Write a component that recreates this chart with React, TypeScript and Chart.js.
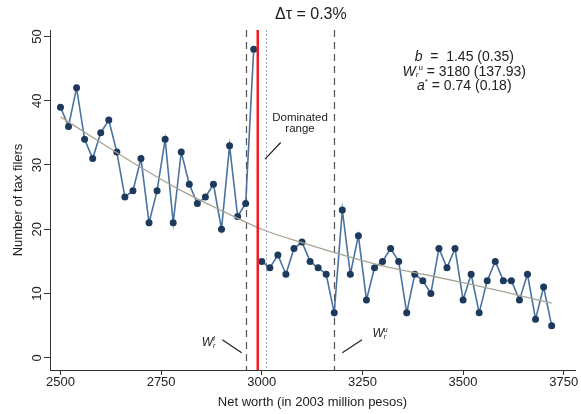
import React, { useEffect, useRef } from "react";
import { Chart, registerables } from "chart.js";

Chart.register(...registerables);

// Net worth bins (2003 million pesos) and number of tax filers, left of the notch
const leftNetWorth = [2500, 2520, 2540, 2560, 2580, 2600, 2620, 2640, 2660, 2680, 2700, 2720, 2740, 2760, 2780, 2800, 2820, 2840, 2860, 2880, 2900, 2920, 2940, 2960, 2980];
const leftFilers = [39, 36, 42, 34, 31, 35, 37, 32, 25, 26, 31, 21, 26, 34, 21, 32, 27, 24, 25, 27, 20, 33, 22, 24, 48];

// right of the notch
const rightNetWorth = [3000, 3020, 3040, 3060, 3080, 3100, 3120, 3140, 3160, 3180, 3200, 3220, 3240, 3260, 3280, 3300, 3320, 3340, 3360, 3380, 3400, 3420, 3440, 3460, 3480, 3500, 3520, 3540, 3560, 3580, 3600, 3620, 3640, 3660, 3680, 3700, 3720];
const rightFilers = [15, 14, 16, 13, 17, 18, 15, 14, 13, 7, 23, 13, 19, 9, 14, 15, 17, 15, 7, 13, 12, 10, 17, 14, 17, 9, 13, 7, 12, 15, 12, 12, 9, 13, 6, 11, 5];

// counterfactual fit
const fitNetWorth = [2500, 2600, 2700, 2800, 2900, 3000, 3100, 3200, 3300, 3400, 3500, 3600, 3720];
const fitFilers = [37.5, 33.5, 29.6, 26.0, 22.9, 20.0, 17.9, 16.0, 14.3, 13.0, 11.7, 10.3, 8.5];

const xTicks = [2500, 2750, 3000, 3250, 3500, 3750];
const yTicks = [0, 10, 20, 30, 40, 50];

const notch = 2990;
const lowerBound = 2960;
const upperBound = 3180;
const dominatedEnd = 3010;

const titleText = "\u0394\u03c4 = 0.3%";
const xTitle = "Net worth (in 2003 million pesos)";
const yTitle = "Number of tax filers";

const FONT = "'Liberation Sans', Arial, Helvetica, sans-serif";

type Run = { t: string; font: string; dy?: number };

function drawRuns(ctx: CanvasRenderingContext2D, runs: Run[], cx: number, y: number) {
  let total = 0;
  for (const r of runs) {
    ctx.font = r.font;
    total += ctx.measureText(r.t).width;
  }
  let x = cx - total / 2;
  ctx.textAlign = "left";
  for (const r of runs) {
    ctx.font = r.font;
    ctx.fillText(r.t, x, y + (r.dy || 0));
    x += ctx.measureText(r.t).width;
  }
}

const annotPlugin = {
  id: "annot",
  beforeDatasetsDraw(chart: any) {
    const { ctx, chartArea: a, scales } = chart;
    const x = scales.x;
    ctx.save();
    const vline = (v: number, color: string, width: number, dash: number[]) => {
      const px = Math.round(x.getPixelForValue(v)) + 0.5;
      ctx.beginPath();
      ctx.setLineDash(dash);
      ctx.strokeStyle = color;
      ctx.lineWidth = width;
      ctx.moveTo(px, a.top);
      ctx.lineTo(px, a.bottom);
      ctx.stroke();
    };
    vline(lowerBound, "#555555", 1.2, [7, 5]);
    vline(dominatedEnd, "#8fa3b5", 0.9, [2, 2]);
    vline(upperBound, "#555555", 1.2, [7, 5]);
    ctx.restore();
  },
  afterDatasetsDraw(chart: any) {
    const { ctx, chartArea: a, scales } = chart;
    const x = scales.x;
    const y = scales.y;
    const X = (v: number) => x.getPixelForValue(v);
    const Y = (v: number) => y.getPixelForValue(v);
    ctx.save();
    // notch (red line)
    ctx.beginPath();
    ctx.setLineDash([]);
    ctx.strokeStyle = "#ee1c25";
    ctx.lineWidth = 2.5;
    ctx.moveTo(X(notch), a.top);
    ctx.lineTo(X(notch), a.bottom);
    ctx.stroke();

    // leader lines
    ctx.strokeStyle = "#222";
    ctx.lineWidth = 1.2;
    const seg = (x1: number, y1: number, x2: number, y2: number) => {
      ctx.beginPath();
      ctx.moveTo(X(x1), Y(y1));
      ctx.lineTo(X(x2), Y(y2));
      ctx.stroke();
    };
    seg(3047, 33.5, 3008, 30.9);
    seg(2902, 2.8, 2950, 0.8);
    seg(3200, 0.8, 3249, 2.8);

    ctx.fillStyle = "#222";
    ctx.textBaseline = "middle";
    // Dominated range
    ctx.textAlign = "center";
    ctx.font = `11.5px ${FONT}`;
    ctx.fillText("Dominated", X(3095), Y(37.3));
    ctx.fillText("range", X(3095), Y(35.6));

    // W labels
    const wl: Run[] = [
      { t: "W", font: `italic 12px ${FONT}` },
      { t: "r", font: `italic 7px ${FONT}`, dy: 3 },
    ];
    drawRuns(ctx, wl, X(2868), Y(2.3));
    ctx.font = `italic 7px ${FONT}`;
    ctx.textAlign = "left";
    ctx.fillText("l", X(2868) + 4.5, Y(2.3) - 4);
    drawRuns(ctx, [
      { t: "W", font: `italic 12px ${FONT}` },
      { t: "r", font: `italic 7px ${FONT}`, dy: 3 },
    ], X(3292), Y(3.7));
    ctx.font = `italic 7px ${FONT}`;
    ctx.textAlign = "left";
    ctx.fillText("u", X(3292) + 4.5, Y(3.7) - 4);

    // estimates box
    const f = `14px ${FONT}`;
    const fi = `italic 14px ${FONT}`;
    const cx = X(3503);
    drawRuns(ctx, [{ t: "b", font: fi }, { t: "  =  1.45 (0.35)", font: f }], cx, Y(46.8));
    drawRuns(ctx, [
      { t: "W", font: fi },
      { t: "r", font: `italic 8px ${FONT}`, dy: 3 },
      { t: "u", font: `8px ${FONT}`, dy: -4 },
      { t: " = 3180 (137.93)", font: f },
    ], cx, Y(44.5));
    drawRuns(ctx, [
      { t: "a", font: fi },
      { t: "*", font: `8px ${FONT}`, dy: -4 },
      { t: " = 0.74 (0.18)", font: f },
    ], cx, Y(42.3));

    ctx.restore();
  },
  afterDraw(chart: any) {
    const { ctx, chartArea: a, scales } = chart;
    const y = scales.y;
    ctx.save();
    ctx.fillStyle = "#222";
    ctx.textBaseline = "middle";
    ctx.textAlign = "center";
    // title
    ctx.font = `16px ${FONT}`;
    ctx.fillText(titleText, chart.scales.x.getPixelForValue(3122), 15);
    // x title
    ctx.font = `13px ${FONT}`;
    ctx.fillText(xTitle, (a.left + a.right) / 2, 402);
    // y tick labels rotated
    for (const v of yTicks) {
      ctx.save();
      ctx.translate(37, y.getPixelForValue(v));
      ctx.rotate(-Math.PI / 2);
      ctx.font = `13px ${FONT}`;
      ctx.fillText(String(v), 0, 0);
      ctx.restore();
    }
    // y title
    ctx.save();
    ctx.translate(18, (a.top + a.bottom) / 2);
    ctx.rotate(-Math.PI / 2);
    ctx.font = `13px ${FONT}`;
    ctx.fillText(yTitle, 0, 0);
    ctx.restore();
    ctx.restore();
  },
};

export default function App() {
  const ref = useRef<HTMLCanvasElement>(null);
  useEffect(() => {
    document.body.style.margin = "0";
    const canvas = ref.current!;
    const pts = (xs: number[], ys: number[]) => xs.map((v, i) => ({ x: v, y: ys[i] }));
    const chart = new Chart(canvas, {
      type: "scatter",
      data: {
        datasets: [
          {
            data: pts(fitNetWorth, fitFilers),
            showLine: true,
            borderColor: "#a9a394",
            borderWidth: 1.3,
            pointRadius: 0,
            cubicInterpolationMode: "monotone",
            order: 0,
          } as any,
          {
            data: pts(leftNetWorth, leftFilers),
            showLine: true,
            borderColor: "#4a73a0",
            borderWidth: 1.6,
            pointRadius: 3.5,
            pointBackgroundColor: "#1d3a5c",
            pointBorderColor: "#1d3a5c",
            pointBorderWidth: 0,
            order: 1,
          },
          {
            data: pts(rightNetWorth, rightFilers),
            showLine: true,
            borderColor: "#4a73a0",
            borderWidth: 1.6,
            pointRadius: 3.5,
            pointBackgroundColor: "#1d3a5c",
            pointBorderColor: "#1d3a5c",
            pointBorderWidth: 0,
            order: 1,
          },
        ],
      },
      options: {
        responsive: false,
        animation: false,
        events: [],
        layout: { padding: { top: 30, right: 6, left: 0, bottom: 0 } },
        plugins: { legend: { display: false }, tooltip: { enabled: false }, title: { display: false } },
        scales: {
          x: {
            type: "linear",
            min: 2474,
            max: 3778,
            afterBuildTicks: (s: any) => {
              s.ticks = xTicks.map((v) => ({ value: v }));
            },
            afterFit: (s: any) => {
              s.height = 44;
            },
            grid: { display: true, drawOnChartArea: false, drawTicks: true, tickLength: 5, tickColor: "#333", color: "#333" },
            border: { display: true, color: "#333", width: 1 },
            ticks: {
              padding: 0,
              color: "#222",
              font: { family: FONT, size: 13 },
              maxRotation: 0,
              minRotation: 0,
              callback: (v: any) => String(v),
            },
          },
          y: {
            type: "linear",
            min: -1.9,
            max: 51,
            afterBuildTicks: (s: any) => {
              s.ticks = yTicks.map((v) => ({ value: v }));
            },
            afterFit: (s: any) => {
              s.width = 50;
            },
            grid: { display: true, drawOnChartArea: false, drawTicks: true, tickLength: 6, tickColor: "#333", color: "#333" },
            border: { display: true, color: "#333", width: 1 },
            ticks: { display: false },
          },
        },
      },
      plugins: [annotPlugin],
    });
    return () => chart.destroy();
  }, []);
  return <canvas ref={ref} width={581} height={414} style={{ display: "block" }} />;
}
